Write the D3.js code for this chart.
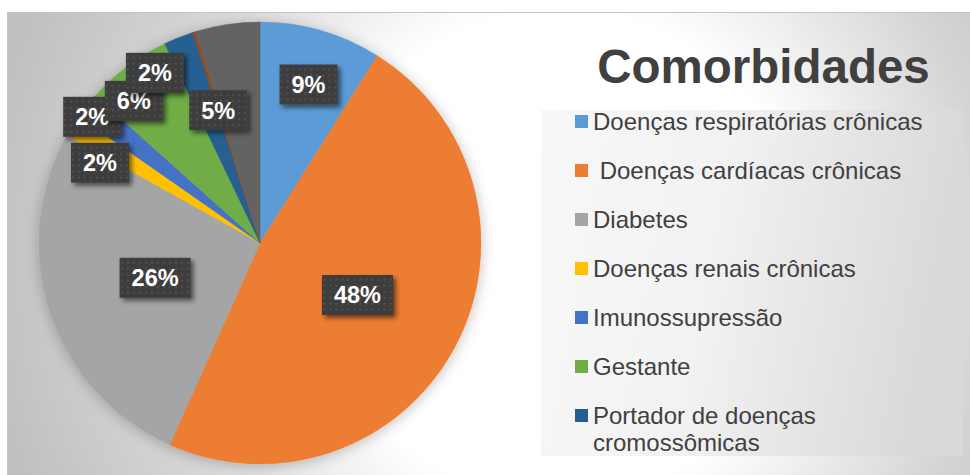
<!DOCTYPE html>
<html>
<head>
<meta charset="utf-8">
<script src="https://cdn.jsdelivr.net/npm/d3@7"></script>
<style>
  html, body { margin: 0; padding: 0; background: #ffffff; }
  svg { display: block; font-family: "Liberation Sans", Arial, sans-serif; }
</style>
</head>
<body>
<svg id="chart" width="970" height="475"></svg>
<script>
// ---- data ----
const categories = [
  "Doenças respiratórias crônicas",
  " Doenças cardíacas crônicas",
  "Diabetes",
  "Doenças renais crônicas",
  "Imunossupressão",
  "Gestante",
  "Portador de doenças cromossômicas",
  "Doenças hematológicas",
  "Outras"
];
const values = [8.9, 47.8, 26.4, 1.6, 1.9, 6.3, 2.2, 0.2, 4.7];
const colors = ["#5B9BD5", "#ED7D31", "#A5A5A5", "#FFC000", "#4472C4", "#70AD47", "#255E91", "#9E480E", "#636363"];
const title = "Comorbidades";

// ---- layout (label placement: angle nudge in degrees, radius fraction) ----
const labelNudge = [1, 0, 0, -5.4, -1.4, -4.7, -10.1, 0, -9.0];
const labelRadius = [0.75, 0.5, 0.5, 0.81, 0.95, 0.86, 0.905, 0.6, 0.63];

const W = 970, H = 475;
const cx = 260, cy = 243, R = 221;

const svg = d3.select("#chart");
const defs = svg.append("defs");

// background gradient
const bg = defs.append("radialGradient").attr("id", "bgGrad")
  .attr("gradientUnits", "userSpaceOnUse")
  .attr("cx", 560).attr("cy", 255).attr("r", 580);
bg.append("stop").attr("offset", 0).attr("stop-color", "#ffffff");
bg.append("stop").attr("offset", 0.42).attr("stop-color", "#ffffff");
bg.append("stop").attr("offset", 0.75).attr("stop-color", "#d4d4d4");
bg.append("stop").attr("offset", 1).attr("stop-color", "#c0c0c0");

// legend gradient
const lg = defs.append("linearGradient").attr("id", "legGrad")
  .attr("x1", 0).attr("y1", 0).attr("x2", 1).attr("y2", 0.15);
lg.append("stop").attr("offset", 0).attr("stop-color", "#f8f8f8");
lg.append("stop").attr("offset", 0.45).attr("stop-color", "#f2f2f2");
lg.append("stop").attr("offset", 1).attr("stop-color", "#d9d9d9");

// label pattern
const pat = defs.append("pattern").attr("id", "dots")
  .attr("patternUnits", "userSpaceOnUse").attr("width", 6).attr("height", 6);
pat.append("rect").attr("width", 6).attr("height", 6).attr("fill", "#3e3e3e");
pat.append("rect").attr("x", 2).attr("y", 2).attr("width", 1.6).attr("height", 1.6).attr("fill", "#585858");

// shadows
const sh = defs.append("filter").attr("id", "boxShadow")
  .attr("x", "-30%").attr("y", "-30%").attr("width", "170%").attr("height", "180%");
sh.append("feDropShadow").attr("dx", 3).attr("dy", 3).attr("stdDeviation", 2.5)
  .attr("flood-color", "#000").attr("flood-opacity", 0.55);

const psh = defs.append("filter").attr("id", "pieShadow")
  .attr("x", "-20%").attr("y", "-20%").attr("width", "140%").attr("height", "140%");
psh.append("feDropShadow").attr("dx", 0).attr("dy", 2).attr("stdDeviation", 7)
  .attr("flood-color", "#000").attr("flood-opacity", 0.25);

// panel
svg.append("rect").attr("x", 7.5).attr("y", 12.5).attr("width", W).attr("height", H)
  .attr("fill", "url(#bgGrad)").attr("stroke", "#c4c4c4").attr("stroke-width", 1);

// pie
const pie = d3.pie().sort(null).value(d => d)(values);
const arc = d3.arc().innerRadius(0).outerRadius(R);
const total = d3.sum(values);
const pct = d3.format(".0%");

const gPie = svg.append("g").attr("transform", `translate(${cx},${cy})`);
gPie.append("g").attr("filter", "url(#pieShadow)")
  .selectAll("path").data(pie).join("path")
  .attr("d", arc)
  .attr("fill", (d, i) => colors[i])
  .attr("stroke", (d, i) => colors[i])
  .attr("stroke-width", 0.5);

// data labels
const gLab = gPie.append("g");
pie.forEach((d, i) => {
  const txt = pct(values[i] / total);
  if (txt === "0%") return;
  const mid = (d.startAngle + d.endAngle) / 2 + labelNudge[i] * Math.PI / 180;
  const r = labelRadius[i] * R;
  const x = Math.sin(mid) * r, y = -Math.cos(mid) * r;
  const g = gLab.append("g").attr("transform", `translate(${x},${y})`);
  const rect = g.append("rect").attr("fill", "url(#dots)").attr("filter", "url(#boxShadow)");
  const t = g.append("text")
    .attr("text-anchor", "middle").attr("dy", "0.36em")
    .attr("fill", "#ffffff").attr("font-weight", "bold").attr("font-size", 23.5)
    .text(txt);
  const w = t.node().getComputedTextLength() + 24, h = 40;
  rect.attr("x", -w / 2).attr("y", -h / 2).attr("width", w).attr("height", h);
});

// title
svg.append("text").attr("x", 763.5).attr("y", 83)
  .attr("text-anchor", "middle").attr("font-weight", "bold").attr("font-size", 47.5)
  .attr("fill", "#404040").text(title);

// legend (entries that do not fit in the legend box are not shown)
const lx = 541, ly = 110, lw = 422, lh = 346;
svg.append("rect").attr("x", lx).attr("y", ly).attr("width", lw).attr("height", lh)
  .attr("fill", "url(#legGrad)");
const gLeg = svg.append("g");
let base = 130;
const maxW = 345;
let full = false;
categories.forEach((name, i) => {
  if (full) return;
  const words = name.split(/(?<=\S)\s+/);
  const probe = gLeg.append("text").attr("font-size", 24).attr("xml:space", "preserve");
  const lines = [];
  let line = [];
  words.forEach(wd => {
    line.push(wd);
    probe.text(line.join(" "));
    if (probe.node().getComputedTextLength() > maxW && line.length > 1) {
      line.pop();
      lines.push(line.join(" "));
      line = [wd];
    }
  });
  lines.push(line.join(" "));
  probe.remove();
  const lastBase = base + (lines.length - 1) * 27;
  if (lastBase > ly + lh) { full = true; return; }
  gLeg.append("rect").attr("x", 575).attr("y", base - 15).attr("width", 13).attr("height", 13)
    .attr("fill", colors[i]);
  const t = gLeg.append("text").attr("x", 593).attr("y", base)
    .attr("font-size", 24).attr("fill", "#404040").attr("xml:space", "preserve");
  lines.forEach((ln, k) => {
    t.append("tspan").attr("x", 593).attr("y", base + k * 27).text(ln);
  });
  base += 49 + (lines.length - 1) * 27;
});
</script>
</body>
</html>
